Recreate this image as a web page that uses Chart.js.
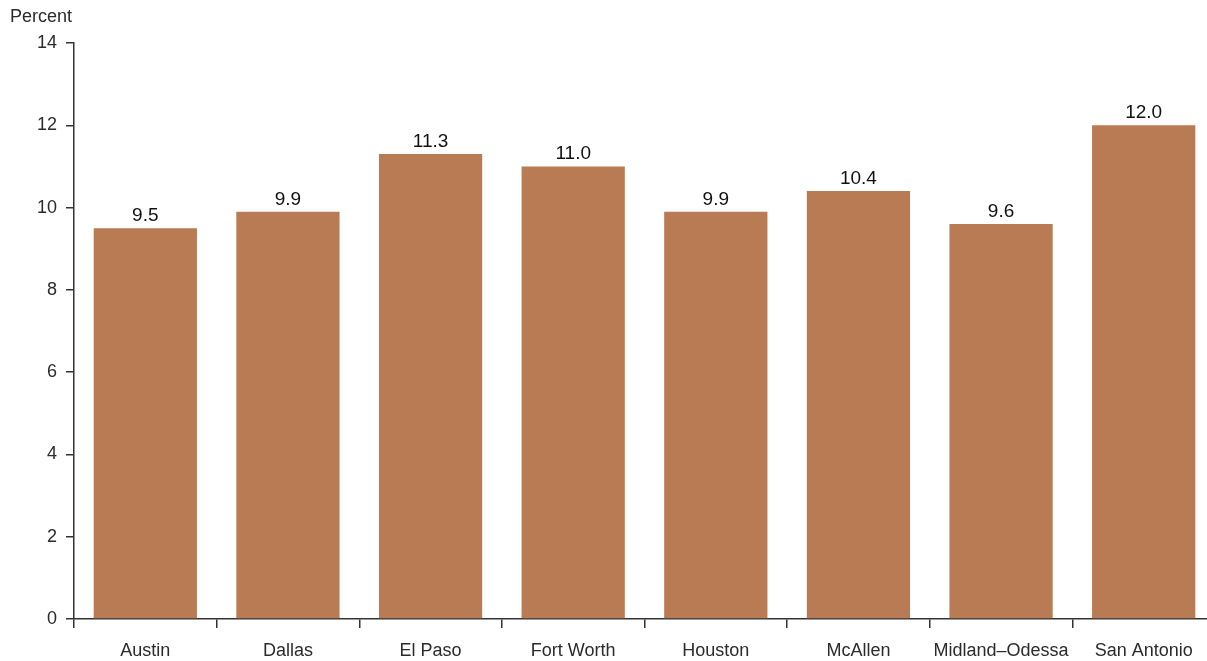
<!DOCTYPE html>
<html>
<head>
<meta charset="utf-8">
<script src="https://cdn.jsdelivr.net/npm/chart.js@4/dist/chart.umd.min.js"></script>
<style>
  html, body { margin: 0; padding: 0; background: #fff; overflow: hidden; }
  #wrap { width: 1215px; height: 661px; }
</style>
</head>
<body>
<div id="wrap"><canvas id="chart"></canvas></div>
<script>
const cities = ['Austin', 'Dallas', 'El Paso', 'Fort Worth', 'Houston', 'McAllen', 'Midland\u2013Odessa', 'San Antonio'];
const shares = [9.5, 9.9, 11.3, 11.0, 9.9, 10.4, 9.6, 12.0];
const yTicks = [0, 2, 4, 6, 8, 10, 12, 14];

const barColor = '#b87b53';
const textColor = '#2b2b2b';

// value labels above each bar
const valueLabels = {
    id: 'valueLabels',
    afterDatasetsDraw(chart) {
        const ctx = chart.ctx;
        const meta = chart.getDatasetMeta(0);
        ctx.save();
        ctx.font = '19px "Liberation Sans Narrow", "Liberation Sans", sans-serif';
        ctx.fillStyle = '#111';
        ctx.textAlign = 'center';
        ctx.textBaseline = 'alphabetic';
        meta.data.forEach((bar, i) => {
            ctx.fillText(shares[i].toFixed(1), bar.x, bar.y - 7);
        });
        ctx.restore();
    }
};

// "Percent" unit label in the top-left corner
const unitLabel = {
    id: 'unitLabel',
    afterDraw(chart) {
        const ctx = chart.ctx;
        ctx.save();
        ctx.font = '18px "Liberation Sans", sans-serif';
        ctx.fillStyle = textColor;
        ctx.textAlign = 'left';
        ctx.textBaseline = 'middle';
        ctx.fillText('Percent', 10, 17);
        ctx.restore();
    }
};

new Chart(document.getElementById('chart'), {
    type: 'bar',
    data: {
        labels: cities,
        datasets: [{
            data: shares,
            backgroundColor: barColor,
            borderWidth: 0,
            categoryPercentage: 1,
            barPercentage: 0.724
        }]
    },
    options: {
        responsive: true,
        maintainAspectRatio: false,
        animation: false,
        layout: { padding: { top: 43, left: 0, right: 0, bottom: 0 } },
        plugins: {
            legend: { display: false },
            tooltip: { enabled: false }
        },
        scales: {
            x: {
                grid: {
                    offset: true,
                    drawOnChartArea: false,
                    drawTicks: true,
                    tickLength: 9,
                    color: '#333',
                    lineWidth: 1.5
                },
                border: { display: true, color: '#333', width: 1.5 },
                ticks: {
                    color: textColor,
                    padding: 12,
                    maxRotation: 0,
                    autoSkip: false,
                    font: { family: '"Liberation Sans", sans-serif', size: 18 }
                },
                afterFit(scale) { scale.height = 42; }
            },
            y: {
                min: 0,
                max: 14,
                afterBuildTicks(scale) { scale.ticks = yTicks.map(v => ({ value: v })); },
                grid: {
                    drawOnChartArea: false,
                    drawTicks: true,
                    tickLength: 8,
                    color: '#333',
                    lineWidth: 1.5
                },
                border: { display: true, color: '#333', width: 1.5 },
                ticks: {
                    color: textColor,
                    padding: 9,
                    font: { family: '"Liberation Sans", sans-serif', size: 18 }
                },
                afterFit(scale) { scale.width = 74; }
            }
        }
    },
    plugins: [valueLabels, unitLabel]
});
</script>
</body>
</html>
